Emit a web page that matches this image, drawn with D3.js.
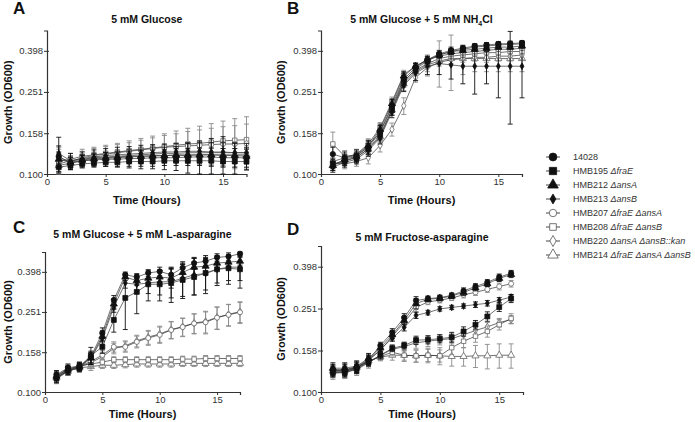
<!DOCTYPE html>
<html>
<head>
<meta charset="utf-8">
<script src="https://cdn.jsdelivr.net/npm/d3@7"></script>
<style>
  body { margin: 0; background: #fff; }
  svg { font-family: "Liberation Sans", Arial, sans-serif; }
  .tick text { fill: #333; font-size: 9.5px; }
  .domain, .tick line { stroke: #333; }
</style>
</head>
<body>
<svg id="chart" width="695" height="422"></svg>
<script>
// sampling times (hours)
var hours = [1,2,3,4,5,6,7,8,9,10,11,12,13,14,15,16,17];
var hoursD = [1,2,3,4,5,6,7,8,9,10,11,12,13,14,15,16];
var yTicks = [0.100, 0.158, 0.251, 0.398];
var xTicks = [0, 5, 10, 15];

var strains = [
  [["", "14028"]],
  [["", "HMB195 "], ["i", "\u0394fraE"]],
  [["", "HMB212 "], ["i", "\u0394ansA"]],
  [["", "HMB213 "], ["i", "\u0394ansB"]],
  [["", "HMB207 "], ["i", "\u0394fraE \u0394ansA"]],
  [["", "HMB208 "], ["i", "\u0394fraE \u0394ansB"]],
  [["", "HMB220 "], ["i", "\u0394ansA \u0394ansB::kan"]],
  [["", "HMB214 "], ["i", "\u0394fraE \u0394ansA \u0394ansB"]]
];

// A: 5 mM Glucose
var glucoseMean = [
  [0.122,0.113,0.116,0.117,0.118,0.118,0.119,0.119,0.120,0.120,0.120,0.121,0.121,0.121,0.120,0.120,0.120],
  [0.108,0.110,0.112,0.113,0.114,0.114,0.115,0.115,0.115,0.116,0.116,0.116,0.116,0.116,0.115,0.115,0.115],
  [0.118,0.114,0.117,0.119,0.120,0.121,0.122,0.122,0.123,0.123,0.124,0.124,0.124,0.124,0.123,0.123,0.122],
  [0.126,0.116,0.119,0.121,0.123,0.124,0.125,0.126,0.127,0.128,0.128,0.129,0.129,0.128,0.128,0.127,0.127],
  [0.120,0.115,0.120,0.123,0.125,0.127,0.129,0.131,0.133,0.135,0.136,0.137,0.138,0.139,0.140,0.140,0.141],
  [0.115,0.118,0.122,0.124,0.126,0.128,0.130,0.132,0.134,0.136,0.138,0.140,0.141,0.143,0.145,0.146,0.147],
  [0.112,0.116,0.118,0.120,0.121,0.122,0.123,0.124,0.125,0.126,0.126,0.127,0.127,0.127,0.127,0.127,0.127],
  [0.110,0.113,0.116,0.118,0.119,0.120,0.121,0.122,0.122,0.123,0.123,0.123,0.124,0.124,0.124,0.124,0.124]
];
var glucoseSD = [
  [0.015,0.008,0.008,0.008,0.009,0.010,0.012,0.013,0.014,0.015,0.016,0.020,0.024,0.028,0.032,0.022,0.015],
  [0.005,0.005,0.005,0.005,0.005,0.005,0.006,0.006,0.006,0.006,0.006,0.006,0.006,0.007,0.007,0.007,0.007],
  [0.010,0.006,0.006,0.006,0.007,0.007,0.007,0.008,0.008,0.008,0.009,0.009,0.010,0.010,0.010,0.010,0.010],
  [0.025,0.010,0.009,0.010,0.010,0.011,0.011,0.012,0.012,0.012,0.013,0.013,0.013,0.014,0.014,0.014,0.014],
  [0.012,0.008,0.009,0.010,0.011,0.012,0.013,0.015,0.017,0.019,0.021,0.024,0.026,0.028,0.030,0.032,0.034],
  [0.020,0.008,0.010,0.011,0.012,0.013,0.015,0.017,0.019,0.021,0.024,0.027,0.030,0.033,0.036,0.040,0.043],
  [0.010,0.007,0.007,0.008,0.008,0.009,0.009,0.010,0.010,0.010,0.011,0.011,0.011,0.012,0.012,0.012,0.012],
  [0.008,0.006,0.006,0.006,0.007,0.007,0.007,0.007,0.008,0.008,0.008,0.008,0.009,0.009,0.009,0.009,0.009]
];

// B: 5 mM Glucose + 5 mM NH4Cl
var ammoniumMean = [
  [0.125,0.120,0.123,0.135,0.160,0.215,0.290,0.330,0.360,0.385,0.400,0.410,0.420,0.425,0.430,0.432,0.435],
  [0.112,0.116,0.120,0.133,0.155,0.205,0.280,0.325,0.355,0.380,0.395,0.405,0.415,0.420,0.425,0.428,0.430],
  [0.110,0.118,0.122,0.137,0.165,0.220,0.300,0.335,0.360,0.380,0.395,0.400,0.405,0.410,0.415,0.415,0.420],
  [0.108,0.114,0.118,0.130,0.150,0.200,0.270,0.310,0.335,0.345,0.340,0.335,0.335,0.335,0.335,0.335,0.335],
  [0.115,0.120,0.125,0.140,0.168,0.225,0.305,0.335,0.360,0.375,0.385,0.390,0.395,0.400,0.405,0.405,0.410],
  [0.140,0.122,0.124,0.138,0.160,0.210,0.285,0.320,0.345,0.365,0.375,0.380,0.385,0.390,0.390,0.395,0.395],
  [0.113,0.112,0.115,0.120,0.138,0.165,0.215,0.295,0.330,0.350,0.360,0.365,0.370,0.370,0.375,0.375,0.380],
  [0.110,0.116,0.121,0.132,0.152,0.205,0.275,0.315,0.340,0.355,0.365,0.365,0.365,0.365,0.365,0.365,0.365]
];
var ammoniumSD = [
  [0.010,0.008,0.008,0.010,0.012,0.015,0.020,0.015,0.015,0.015,0.015,0.012,0.012,0.012,0.012,0.012,0.012],
  [0.006,0.006,0.006,0.008,0.010,0.012,0.015,0.012,0.012,0.012,0.012,0.010,0.010,0.010,0.010,0.010,0.010],
  [0.006,0.006,0.006,0.008,0.010,0.012,0.015,0.012,0.012,0.012,0.012,0.010,0.010,0.010,0.010,0.010,0.010],
  [0.006,0.006,0.006,0.008,0.010,0.012,0.018,0.025,0.030,0.040,0.050,0.060,0.090,0.060,0.100,0.160,0.100],
  [0.008,0.006,0.006,0.008,0.010,0.012,0.015,0.012,0.012,0.012,0.012,0.010,0.010,0.010,0.010,0.010,0.010],
  [0.020,0.008,0.008,0.010,0.012,0.015,0.015,0.012,0.012,0.012,0.012,0.010,0.010,0.010,0.010,0.010,0.010],
  [0.006,0.006,0.006,0.008,0.010,0.012,0.020,0.015,0.015,0.015,0.015,0.015,0.015,0.020,0.020,0.020,0.020],
  [0.006,0.006,0.006,0.008,0.010,0.012,0.020,0.030,0.040,0.090,0.110,0.060,0.050,0.050,0.050,0.050,0.050]
];

// C: 5 mM Glucose + 5 mM L-asparagine
var asparagineMean = [
  [0.122,0.132,0.135,0.150,0.197,0.288,0.385,0.375,0.393,0.400,0.385,0.417,0.440,0.450,0.470,0.475,0.490],
  [0.117,0.128,0.132,0.152,0.168,0.229,0.295,0.316,0.345,0.345,0.350,0.363,0.375,0.393,0.410,0.415,0.410],
  [0.120,0.130,0.134,0.148,0.190,0.275,0.375,0.360,0.370,0.375,0.370,0.395,0.420,0.425,0.440,0.445,0.450],
  [0.118,0.128,0.133,0.147,0.185,0.265,0.350,0.345,0.350,0.355,0.355,0.370,0.385,0.390,0.410,0.420,0.420],
  [0.119,0.129,0.134,0.142,0.153,0.168,0.168,0.178,0.186,0.193,0.204,0.211,0.220,0.223,0.235,0.243,0.250],
  [0.121,0.130,0.135,0.138,0.141,0.145,0.145,0.145,0.145,0.145,0.145,0.146,0.146,0.147,0.147,0.147,0.147],
  [0.116,0.127,0.133,0.140,0.150,0.165,0.170,0.180,0.188,0.195,0.205,0.212,0.221,0.225,0.236,0.244,0.252],
  [0.118,0.127,0.132,0.134,0.136,0.136,0.137,0.138,0.138,0.138,0.138,0.139,0.139,0.139,0.139,0.139,0.139]
];
var asparagineSD = [
  [0.006,0.006,0.006,0.010,0.012,0.015,0.012,0.015,0.015,0.020,0.030,0.030,0.030,0.030,0.020,0.020,0.015],
  [0.006,0.006,0.006,0.015,0.012,0.030,0.090,0.070,0.060,0.060,0.070,0.070,0.070,0.070,0.060,0.070,0.080],
  [0.006,0.006,0.006,0.010,0.012,0.015,0.015,0.020,0.025,0.030,0.040,0.040,0.045,0.040,0.030,0.025,0.020],
  [0.006,0.006,0.006,0.010,0.012,0.015,0.020,0.030,0.040,0.050,0.060,0.070,0.080,0.080,0.070,0.060,0.060],
  [0.006,0.006,0.006,0.008,0.008,0.010,0.010,0.012,0.015,0.018,0.020,0.022,0.025,0.028,0.030,0.030,0.030],
  [0.006,0.006,0.006,0.006,0.005,0.005,0.005,0.005,0.005,0.005,0.005,0.005,0.005,0.005,0.005,0.005,0.005],
  [0.006,0.006,0.006,0.008,0.008,0.010,0.010,0.012,0.015,0.018,0.020,0.022,0.025,0.028,0.030,0.030,0.030],
  [0.006,0.006,0.006,0.006,0.005,0.005,0.005,0.005,0.005,0.005,0.005,0.005,0.005,0.005,0.005,0.005,0.005]
];

// D: 5 mM Fructose-asparagine
var fructoseMean = [
  [0.127,0.127,0.131,0.142,0.167,0.193,0.227,0.274,0.280,0.283,0.290,0.305,0.320,0.335,0.355,0.370],
  [0.124,0.124,0.129,0.139,0.150,0.162,0.167,0.177,0.178,0.180,0.183,0.195,0.210,0.230,0.255,0.280],
  [0.130,0.130,0.133,0.145,0.163,0.188,0.220,0.265,0.278,0.281,0.288,0.300,0.315,0.330,0.350,0.365],
  [0.126,0.126,0.130,0.141,0.160,0.181,0.204,0.233,0.240,0.250,0.254,0.258,0.262,0.266,0.275,0.285],
  [0.128,0.128,0.132,0.143,0.158,0.185,0.215,0.254,0.270,0.275,0.282,0.292,0.300,0.310,0.320,0.330],
  [0.125,0.125,0.130,0.140,0.148,0.155,0.150,0.149,0.150,0.149,0.163,0.175,0.185,0.195,0.210,0.225],
  [0.123,0.124,0.128,0.138,0.150,0.160,0.165,0.172,0.175,0.178,0.180,0.188,0.197,0.205,0.215,0.222],
  [0.126,0.127,0.131,0.141,0.147,0.150,0.150,0.149,0.150,0.149,0.148,0.148,0.149,0.149,0.150,0.150]
];
var fructoseSD = [
  [0.008,0.008,0.008,0.008,0.006,0.008,0.010,0.012,0.008,0.008,0.008,0.010,0.010,0.010,0.012,0.012],
  [0.006,0.006,0.006,0.006,0.006,0.006,0.006,0.008,0.008,0.008,0.010,0.010,0.010,0.012,0.012,0.012],
  [0.008,0.008,0.008,0.008,0.006,0.008,0.010,0.015,0.008,0.008,0.008,0.010,0.010,0.010,0.012,0.012],
  [0.006,0.006,0.006,0.006,0.006,0.006,0.008,0.008,0.006,0.006,0.006,0.006,0.008,0.008,0.008,0.008],
  [0.008,0.008,0.008,0.008,0.006,0.008,0.010,0.012,0.008,0.008,0.008,0.010,0.010,0.010,0.012,0.012],
  [0.008,0.008,0.008,0.008,0.006,0.006,0.008,0.010,0.010,0.010,0.012,0.012,0.012,0.012,0.012,0.012],
  [0.008,0.008,0.008,0.008,0.006,0.006,0.008,0.010,0.010,0.010,0.010,0.010,0.010,0.010,0.010,0.010],
  [0.008,0.010,0.008,0.008,0.006,0.008,0.010,0.010,0.012,0.014,0.015,0.015,0.018,0.020,0.020,0.020]
];

var SHAPES = [d3.symbolCircle, d3.symbolSquare, d3.symbolTriangle, d3.symbolDiamond,
              d3.symbolCircle, d3.symbolSquare, d3.symbolDiamond, d3.symbolTriangle];
var SIZES = [22, 24, 22, 13, 20, 20, 16, 22];
var FILLED = [true, true, true, true, false, false, false, false];
var DRAW_ORDER = [7, 6, 5, 4, 3, 2, 1, 0];

var panels = [
  {letter: "A", title: ["5 mM Glucose"], mean: glucoseMean, sd: glucoseSD, t: hours,
   left: 47, right: 246.5, top: 30.5, bottom: 174, lx: 13, ly: 14, titleY: 23, ylabX: 12, xlabY: 204},
  {letter: "B", title: ["5 mM Glucose + 5 mM NH", "4", "Cl"], mean: ammoniumMean, sd: ammoniumSD, t: hours,
   left: 321, right: 522, top: 30.5, bottom: 174, lx: 287, ly: 14, titleY: 23, ylabX: 285, xlabY: 204},
  {letter: "C", title: ["5 mM Glucose + 5 mM L-asparagine"], mean: asparagineMean, sd: asparagineSD, t: hours,
   left: 45, right: 240, top: 252, bottom: 392, lx: 13, ly: 233, titleY: 238, ylabX: 12, xlabY: 418},
  {letter: "D", title: ["5 mM Fructose-asparagine"], mean: fructoseMean, sd: fructoseSD, t: hoursD,
   left: 321, right: 523, top: 246, bottom: 392, lx: 287, ly: 235, titleY: 241, ylabX: 285, xlabY: 418}
];

var svg = d3.select("#chart");

function drawPanel(p) {
  var x = d3.scaleLinear().domain([0, 17]).range([p.left, p.right]);
  var y = d3.scaleLog().domain([0.1, 0.5]).range([p.bottom, p.top]);
  var g = svg.append("g");

  g.append("g").attr("transform", "translate(0," + p.bottom + ")")
    .call(d3.axisBottom(x).tickValues(xTicks).tickSize(3).tickPadding(1).tickFormat(d3.format("d")));
  g.append("g").attr("transform", "translate(" + p.left + ",0)")
    .call(d3.axisLeft(y).tickValues(yTicks).tickSize(3).tickPadding(1).tickFormat(d3.format(".3f")))
    .call(function(a) { a.selectAll(".tick line").attr("x2", 2).attr("x1", -3); });
  g.selectAll(".domain").attr("stroke-width", 1.2);

  var clampV = function(v) { return Math.max(0.1, Math.min(0.5, v)); };
  var line = d3.line().x(function(d) { return x(d.t); }).y(function(d) { return y(d.v); });

  DRAW_ORDER.forEach(function(s) {
    var vals = p.mean[s];
    var pts = vals.map(function(v, i) { return {t: p.t[i], v: v, e: p.sd[s][i]}; });
    var col = FILLED[s] ? "#111" : "#8a8a8a";
    var sg = g.append("g");
    sg.append("path").datum(pts).attr("d", line)
      .attr("fill", "none").attr("stroke", "#333").attr("stroke-width", 0.7);
    var eb = sg.selectAll("g.err").data(pts).enter().append("g").attr("class", "err")
      .attr("stroke", col).attr("stroke-width", 0.9);
    eb.append("line").attr("x1", function(d) { return x(d.t); }).attr("x2", function(d) { return x(d.t); })
      .attr("y1", function(d) { return y(clampV(d.v + d.e)); }).attr("y2", function(d) { return y(clampV(d.v - d.e)); });
    eb.append("line").attr("x1", function(d) { return x(d.t) - 2.5; }).attr("x2", function(d) { return x(d.t) + 2.5; })
      .attr("y1", function(d) { return y(clampV(d.v + d.e)); }).attr("y2", function(d) { return y(clampV(d.v + d.e)); });
    eb.append("line").attr("x1", function(d) { return x(d.t) - 2.5; }).attr("x2", function(d) { return x(d.t) + 2.5; })
      .attr("y1", function(d) { return y(clampV(d.v - d.e)); }).attr("y2", function(d) { return y(clampV(d.v - d.e)); });
    sg.selectAll("path.mk").data(pts).enter().append("path").attr("class", "mk")
      .attr("transform", function(d) { return "translate(" + x(d.t) + "," + y(d.v) + ")"; })
      .attr("d", d3.symbol().type(SHAPES[s]).size(SIZES[s]))
      .attr("fill", FILLED[s] ? "#111" : "#fff")
      .attr("stroke", FILLED[s] ? "#111" : "#666").attr("stroke-width", 0.8);
  });

  svg.append("text").attr("x", p.lx).attr("y", p.ly).text(p.letter)
    .attr("font-size", 17).attr("font-weight", "bold").attr("fill", "#111");

  var t = svg.append("text").attr("x", (p.left + p.right) / 2).attr("y", p.titleY)
    .attr("text-anchor", "middle").attr("font-size", 10.5).attr("font-weight", "bold").attr("fill", "#111");
  t.append("tspan").text(p.title[0]);
  if (p.title.length > 1) {
    t.append("tspan").text(p.title[1]).attr("font-size", 7).attr("dy", 2.5);
    t.append("tspan").text(p.title[2]).attr("dy", -2.5);
  }

  svg.append("text").attr("transform", "translate(" + p.ylabX + "," + ((p.top + p.bottom) / 2) + ") rotate(-90)")
    .attr("text-anchor", "middle").attr("font-size", 11).attr("font-weight", "bold").attr("fill", "#111")
    .text("Growth (OD600)");
  svg.append("text").attr("x", (p.left + p.right) / 2).attr("y", p.xlabY)
    .attr("text-anchor", "middle").attr("font-size", 11).attr("font-weight", "bold").attr("fill", "#111")
    .text("Time (Hours)");
}

panels.forEach(drawPanel);

// legend
var leg = svg.append("g").attr("transform", "translate(553,157)");
strains.forEach(function(parts, s) {
  var row = leg.append("g").attr("transform", "translate(0," + (s * 14) + ")");
  row.append("line").attr("x1", -7).attr("x2", 7).attr("stroke", "#333").attr("stroke-width", 0.9);
  row.append("path").attr("d", d3.symbol().type(SHAPES[s]).size(SIZES[s] * 2.2))
    .attr("fill", FILLED[s] ? "#111" : "#fff").attr("stroke", FILLED[s] ? "#111" : "#555").attr("stroke-width", 0.8);
  var tx = row.append("text").attr("x", 20).attr("y", 3.3).attr("font-size", 9).attr("fill", "#333");
  parts.forEach(function(pt) {
    tx.append("tspan").text(pt[1]).attr("font-style", pt[0] === "i" ? "italic" : "normal");
  });
});
</script>
</body>
</html>
